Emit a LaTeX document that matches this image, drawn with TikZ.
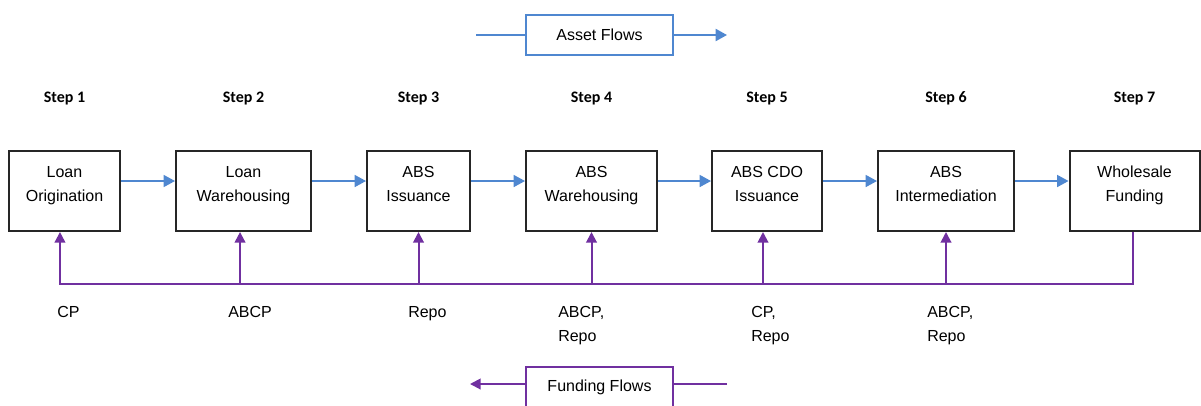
\documentclass[tikz,border=0pt]{standalone}
\usepackage{fontspec}
\setmainfont{Liberation Sans}
\newfontfamily\stepfont{Carlito}
\usepackage{xcolor}
\usepackage{tikz}
\usetikzlibrary{arrows.meta}
\definecolor{flowblue}{HTML}{4F87D0}
\definecolor{flowpurple}{HTML}{7030A0}
\definecolor{boxline}{HTML}{262626}

\begin{document}
\begin{tikzpicture}[x=0.75pt,y=-0.75pt,
  every node/.style={font=\fontsize{12pt}{18pt}\selectfont},
  stepbox/.style={draw=boxline,line width=1.5pt,minimum width=#1,minimum height=60pt,
    inner xsep=0pt,inner ysep=0pt,align=center,text height=37.5pt,text depth=22.5pt},
  steplabel/.style={anchor=base,font=\stepfont\bfseries\fontsize{12pt}{14pt}\selectfont},
  fundlabel/.style={anchor=north west,inner sep=0pt,align=left},
  legendbox/.style={draw=flowblue,line width=1.5pt,minimum width=110.25pt,minimum height=30pt},
  asset/.style={flowblue,line width=1.1pt,-{Triangle[length=8.5pt,width=9pt]}},
  fund/.style={flowpurple,line width=1.5pt,-{Triangle[length=8pt,width=8pt]}}]
  \useasboundingbox (0,0) rectangle (1201,405);
  \clip (0,0) rectangle (1201,405);

  \node[legendbox] (af) at (599.5,35) {Asset Flows};
  \coordinate (afl) at (476,35);
  \coordinate (afr) at (727,35);
  \draw[flowblue,line width=1.5pt] (afl) -- (af.west);
  \draw[asset,line width=1.5pt] (af.east) -- (afr);

  \node[stepbox=83.25pt] (b1) at (64.5,191) {Loan\\Origination};
  \node[stepbox=101.25pt] (b2) at (243.5,191) {Loan\\Warehousing};
  \node[stepbox=77.25pt] (b3) at (418.5,191) {ABS\\Issuance};
  \node[stepbox=98.25pt] (b4) at (591.5,191) {ABS\\Warehousing};
  \node[stepbox=82.5pt] (b5) at (767,191) {ABS CDO\\Issuance};
  \node[stepbox=102pt] (b6) at (946,191) {ABS\\Intermediation};
  \node[stepbox=97.5pt] (b7) at (1134.5,191) {Wholesale\\Funding};

  \foreach \i in {1,...,7}
    \node[steplabel] (s\i) at ([yshift=36pt]b\i.north) {Step \i};

  \foreach \a/\b in {b1/b2,b2/b3,b3/b4,b4/b5,b5/b6,b6/b7}
    \draw[asset] ([yshift=7.5pt]\a.east) -- ([yshift=7.5pt]\b.west);

  \coordinate (fl) at (0,284);
  \draw[fund] ([xshift=-1.5pt]b7.south) |- ([xshift=-3.4pt]b1.south |- fl) -- ([xshift=-3.4pt]b1.south);
  \foreach \b/\dx in {b2/-2.6pt,b3/0pt,b4/0pt,b5/-3pt,b6/0pt}
    \draw[fund] ([xshift=\dx]\b.south |- fl) -- ([xshift=\dx]\b.south);

  \node[fundlabel] (l1) at (57,306) {CP};
  \node[fundlabel] (l2) at (228,306) {ABCP};
  \node[fundlabel] (l3) at (408,306) {Repo};
  \node[fundlabel] (l4) at (558,306) {ABCP,\\Repo};
  \node[fundlabel] (l5) at (751,306) {CP,\\Repo};
  \node[fundlabel] (l6) at (927,306) {ABCP,\\Repo};

  \node[legendbox,draw=flowpurple] (ff) at (599.5,387) {Funding Flows};
  \coordinate (ffl) at (470,384);
  \coordinate (ffr) at (727,384);
  \draw[flowpurple,line width=1.5pt] (ffr) -- (ffr -| ff.east);
  \draw[fund] (ff.west |- ffl) -- (ffl);
\end{tikzpicture}
\end{document}
